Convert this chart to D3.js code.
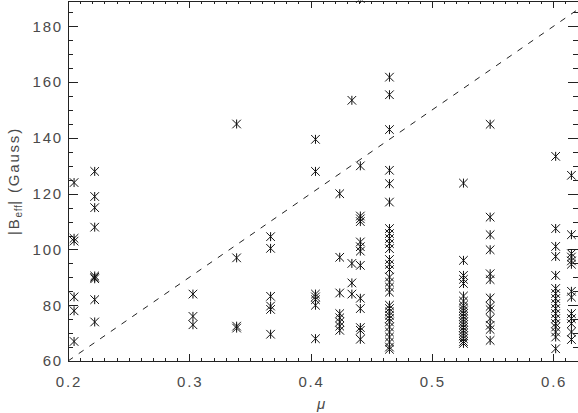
<!DOCTYPE html>
<html>
<head>
<meta charset="utf-8">
<script src="https://cdn.jsdelivr.net/npm/d3@7"></script>
<style>
  body { margin: 0; background: #fff; }
  svg { display: block; }
  .lbl { font-family: "Liberation Sans", Arial, sans-serif; font-size: 15px; fill: #4a4a4a; letter-spacing: 1.8px; }
  .frame line, .frame path { stroke: #222; stroke-width: 1; shape-rendering: crispEdges; }
</style>
</head>
<body>
<div id="chart"></div>
<script>
// mu position of each column of stars
const muCols = [0.205, 0.222, 0.303, 0.339, 0.367, 0.404, 0.424, 0.434, 0.441, 0.465, 0.526, 0.548, 0.602, 0.615]

// |B_eff| values (Gauss) in each column, same order as muCols
const beffCols = [
  [124, 104, 103, 83, 78, 67],
  [128, 119, 115, 108, 90.5, 90, 89.5, 82, 74],
  [84, 76, 73],
  [145, 97, 72.5, 71.8],
  [104.6, 100.4, 83.2, 79.7, 78.5, 69.6],
  [139.5, 128, 84, 83, 82, 80, 68],
  [120, 97.2, 84.4, 77, 75.5, 74, 72.5, 71],
  [153.5, 95, 88, 84],
  [190, 130, 112, 111, 110, 102.7, 101, 99.4, 94.3, 82.5, 78.8, 72, 71, 67.8],
  [161.8, 155.5, 143, 128.4, 123.6, 117, 107.5, 105.7, 103.9, 102.1, 100.3, 96.4, 94.7, 92.8, 90.1,
   88.3, 86.5, 84.7, 80, 78.8, 77.6, 76.4, 75.2, 74, 72.2, 70.4, 68.6, 66.8, 65, 64.2],
  [123.8, 96.1, 90.7, 89.3, 87.8, 83.3, 81.5, 80, 79, 78, 77, 76, 75, 74, 73, 72, 71, 70, 69, 68, 67, 66.3],
  [144.9, 111.6, 105.3, 99.9, 91.3, 89.2, 82.6, 79.6, 78.4, 75.2, 72.8, 71.3, 67.4],
  [133.4, 107.5, 101.1, 97.5, 90.7, 86, 84.2, 82.4, 80.6, 78.8, 77, 75.2, 73.4, 72.2, 70.4, 68.6, 64.4],
  [126.6, 105.3, 98.5, 97.3, 95.9, 94.7, 85, 82.9, 77, 75.2, 73.4, 70.4, 67.7]
]

// dashed reference line |B| = 300 mu
const lineMu = [0.2, 0.62]
const lineB = [60, 186]

const xTicks = [0.2, 0.3, 0.4, 0.5, 0.6]
const yTicks = [60, 80, 100, 120, 140, 160, 180]

const dms = { width: 578, height: 413, left: 68, right: 577.5, top: 0.5, bottom: 361 }

const points = []
muCols.forEach((m, i) => beffCols[i].forEach(b => points.push({ mu: m, b: b })))

const x = d3.scaleLinear().domain([0.2, 0.62]).range([dms.left, dms.right])
const y = d3.scaleLinear().domain([60, 189.3]).range([dms.bottom, dms.top])

const svg = d3.select('#chart').append('svg')
    .attr('width', dms.width)
    .attr('height', dms.height)

svg.append('clipPath')
    .attr('id', 'plot-clip')
  .append('rect')
    .attr('x', dms.left)
    .attr('y', dms.top)
    .attr('width', dms.right - dms.left)
    .attr('height', dms.bottom - dms.top)

// frame: axes with major and minor ticks on all four sides
const frame = svg.append('g').attr('class', 'frame')
const minorX = d3.range(20, 63).map(d => d / 100)
const minorY = d3.range(60, 190, 5)

function addAxis(gen, transform) {
  const g = frame.append('g').attr('transform', transform).call(gen)
  g.selectAll('text').remove()
  g.select('.domain').attr('stroke', '#222')
  return g
}

addAxis(d3.axisBottom(x).tickValues(minorX).tickSize(-3.5).tickSizeOuter(0), `translate(0,${dms.bottom})`)
addAxis(d3.axisBottom(x).tickValues(xTicks).tickSize(-7).tickSizeOuter(0), `translate(0,${dms.bottom})`)
addAxis(d3.axisTop(x).tickValues(minorX).tickSize(-3.5).tickSizeOuter(0), `translate(0,${dms.top})`)
addAxis(d3.axisTop(x).tickValues(xTicks).tickSize(-7).tickSizeOuter(0), `translate(0,${dms.top})`)
addAxis(d3.axisLeft(y).tickValues(minorY).tickSize(-5).tickSizeOuter(0), `translate(${dms.left},0)`)
addAxis(d3.axisLeft(y).tickValues(yTicks).tickSize(-10).tickSizeOuter(0), `translate(${dms.left},0)`)
addAxis(d3.axisRight(y).tickValues(minorY).tickSize(-5).tickSizeOuter(0), `translate(${dms.right},0)`)
addAxis(d3.axisRight(y).tickValues(yTicks).tickSize(-10).tickSizeOuter(0), `translate(${dms.right},0)`)

// tick labels
svg.append('g').selectAll('text')
  .data(xTicks)
  .join('text')
    .attr('class', 'lbl')
    .attr('x', d => x(d) + 0.9)
    .attr('y', dms.bottom + 25.7)
    .attr('text-anchor', 'middle')
    .text(d3.format('.1f'))

svg.append('g').selectAll('text')
  .data(yTicks)
  .join('text')
    .attr('class', 'lbl')
    .attr('x', dms.left - 5)
    .attr('y', d => y(d) + 5.3)
    .attr('text-anchor', 'end')
    .text(d => d)

// axis titles
svg.append('text')
    .attr('class', 'lbl')
    .attr('x', 322)
    .attr('y', 409)
    .attr('text-anchor', 'middle')
    .style('font-style', 'italic')
    .text('μ')

const yTitle = svg.append('text')
    .attr('class', 'lbl')
    .attr('text-anchor', 'middle')
    .attr('transform', 'translate(18.5,181) rotate(-90)')
yTitle.append('tspan').text('|B')
yTitle.append('tspan').attr('dy', 3).style('font-size', '10px').style('letter-spacing', '0.6px').text('eff')
yTitle.append('tspan').attr('dy', -3).text('| (Gauss)')

const plot = svg.append('g').attr('clip-path', 'url(#plot-clip)')

// dashed line
plot.append('line')
    .attr('x1', x(lineMu[0]))
    .attr('y1', y(lineB[0]))
    .attr('x2', x(lineMu[1]))
    .attr('y2', y(lineB[1]))
    .attr('stroke', '#222')
    .attr('stroke-width', 1)
    .attr('stroke-dasharray', '6,7')

// asterisk markers
const star = 'M0,-4.5V4.5M-4.3,-4.3L4.3,4.3M-4.3,4.3L4.3,-4.3'
plot.append('g').selectAll('path')
  .data(points)
  .join('path')
    .attr('transform', d => `translate(${x(d.mu)},${y(d.b)})`)
    .attr('d', star)
    .attr('fill', 'none')
    .attr('stroke', '#111')
    .attr('stroke-width', 1)
</script>
</body>
</html>
